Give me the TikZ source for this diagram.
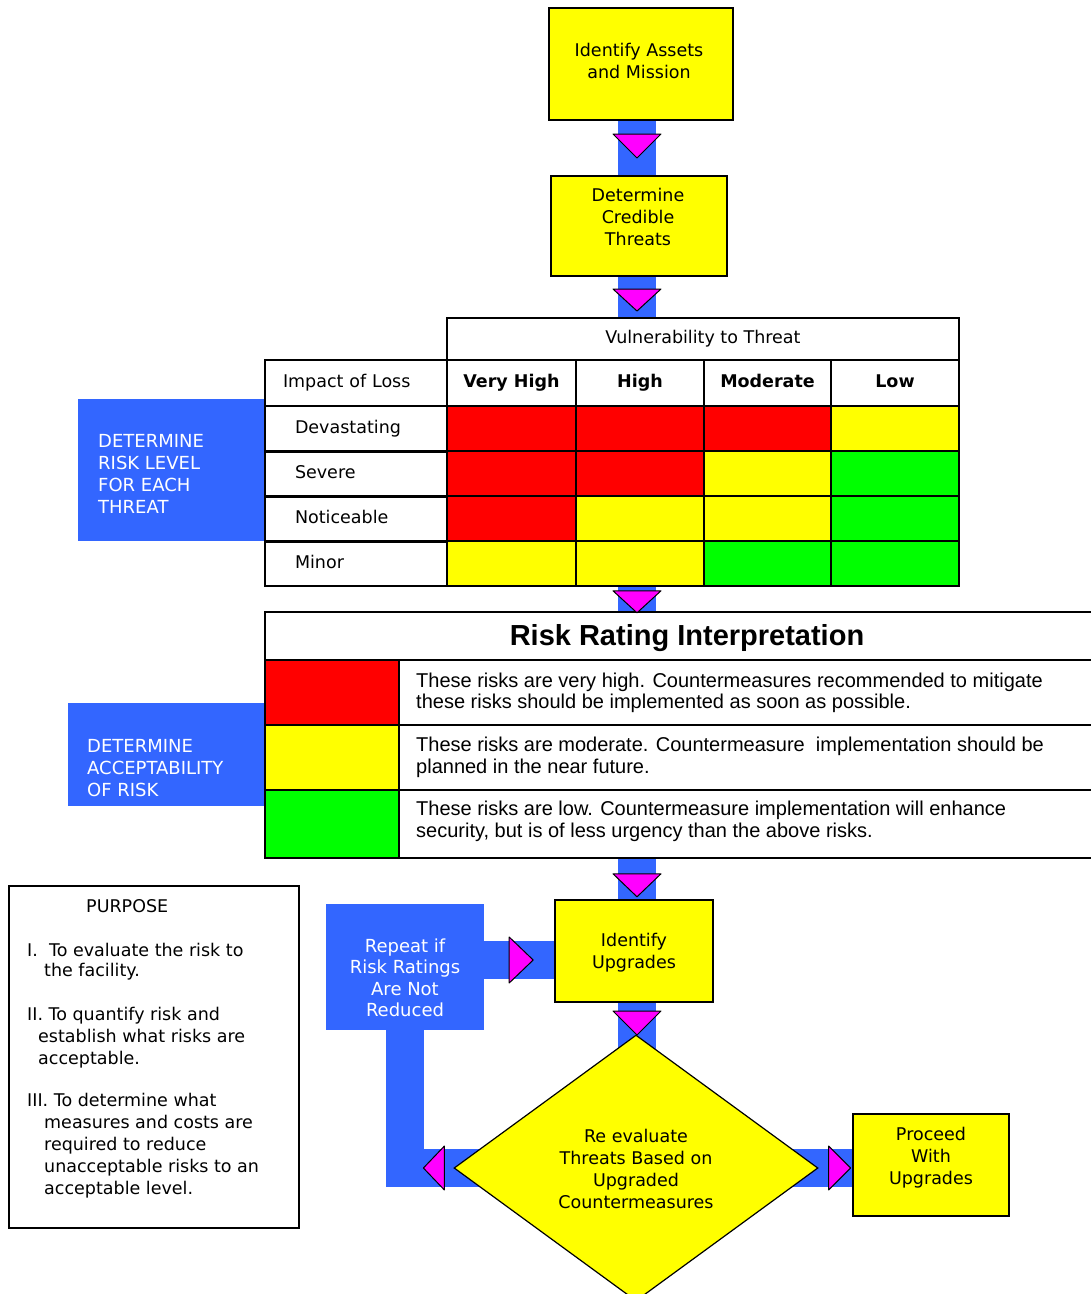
\documentclass[tikz,border=0pt]{standalone}
\usepackage{fontspec}
\setmainfont{DejaVu Sans}
\newfontfamily\lib{Liberation Sans}
\usetikzlibrary{shapes.geometric,calc}
\definecolor{bblue}{RGB}{51,102,255}
\definecolor{mag}{RGB}{255,0,255}
\definecolor{yel}{RGB}{255,255,0}
\definecolor{rd}{RGB}{255,0,0}
\definecolor{grn}{RGB}{0,255,0}
\pgfdeclarelayer{bg}
\pgfsetlayers{bg,main}
\begin{document}
\begin{tikzpicture}[x=1pt,y=-1pt,
  every node/.style={font=\fontsize{17.5}{22}\selectfont, inner sep=0pt},
  ybox/.style={draw=black, line width=2, fill=yel},
  bbox/.style={fill=bblue},
  wtext/.style={text=white, align=left, font=\fontsize{18}{22}\selectfont},
  cell/.style={draw=black, line width=1.6},
  rhead/.style={cell, fill=white, minimum width=182, minimum height=45, text width=122, align=left, text height=13, text depth=4},
  chead/.style={cell, fill=white, minimum height=46, text height=13, text depth=4, font=\fontsize{17.5}{22}\selectfont\bfseries},
  bar/.style={draw=bblue, line width=38},
  tri/.style={fill=mag, draw=black, line width=1, line join=round},
  itext/.style={font=\lib\fontsize{20}{21.5}\selectfont, align=left},
  ptext/.style={anchor=base west},
]
\useasboundingbox (0,0) rectangle (1091,1294);
\coordinate (ax) at (637,0);
\coordinate (hy) at (0,960);

% top boxes
\node[ybox, minimum width=184, minimum height=112] (b1) at (641,64) {};
\node[align=center] (b1t) at (639,61) {Identify Assets\\and Mission};
\node[ybox, minimum width=176, minimum height=100] (b2) at (639,226) {};
\node[align=center] (b2t) at (638,217) {Determine\\Credible\\Threats};

% blue side boxes
\node[bbox, minimum width=187, minimum height=142] (drl) at (171.5,470) {};
\node[wtext, anchor=west] (drlt) at (98,474) {DETERMINE\\RISK LEVEL\\FOR EACH\\THREAT};
\node[bbox, minimum width=197, minimum height=103] (acc) at (166.5,754.5) {};
\node[wtext, anchor=west] (acct) at (87,768) {DETERMINE\\ACCEPTABILITY\\OF RISK};

% risk matrix
\node[cell, fill=white, minimum width=512, minimum height=42, text height=13, text depth=4] (vuln) at (703,339) {Vulnerability to Threat};
\node[cell, fill=white, minimum width=182, minimum height=46, text width=146, align=left, text height=13, text depth=4] (imp) at (356,383) {Impact of Loss};
\node[chead, minimum width=129] (hvh) at (511.5,383) {Very High};
\node[chead, minimum width=128] (hh) at (640,383) {High};
\node[chead, minimum width=127] (hm) at (767.5,383) {Moderate};
\node[chead, minimum width=128] (hl) at (895,383) {Low};

\node[rhead] (dev) at (356,428.5) {Devastating};
\node[rhead] (sev) at (356,473.5) {Severe};
\node[rhead] (not) at (356,518.5) {Noticeable};
\node[rhead] (mi) at (356,563.5) {Minor};

\node[cell, fill=rd,  minimum width=129, minimum height=45] (c11) at (511.5,428.5) {};
\node[cell, fill=rd,  minimum width=128, minimum height=45] (c12) at (640,428.5) {};
\node[cell, fill=rd,  minimum width=127, minimum height=45] (c13) at (767.5,428.5) {};
\node[cell, fill=yel, minimum width=128, minimum height=45] (c14) at (895,428.5) {};
\node[cell, fill=rd,  minimum width=129, minimum height=45] (c21) at (511.5,473.5) {};
\node[cell, fill=rd,  minimum width=128, minimum height=45] (c22) at (640,473.5) {};
\node[cell, fill=yel, minimum width=127, minimum height=45] (c23) at (767.5,473.5) {};
\node[cell, fill=grn, minimum width=128, minimum height=45] (c24) at (895,473.5) {};
\node[cell, fill=rd,  minimum width=129, minimum height=45] (c31) at (511.5,518.5) {};
\node[cell, fill=yel, minimum width=128, minimum height=45] (c32) at (640,518.5) {};
\node[cell, fill=yel, minimum width=127, minimum height=45] (c33) at (767.5,518.5) {};
\node[cell, fill=grn, minimum width=128, minimum height=45] (c34) at (895,518.5) {};
\node[cell, fill=yel, minimum width=129, minimum height=45] (c41) at (511.5,563.5) {};
\node[cell, fill=yel, minimum width=128, minimum height=45] (c42) at (640,563.5) {};
\node[cell, fill=grn, minimum width=127, minimum height=45] (c43) at (767.5,563.5) {};
\node[cell, fill=grn, minimum width=128, minimum height=45] (c44) at (895,563.5) {};
\draw[line width=3] (dev.south west) -- (dev.south east);
\draw[line width=3] (sev.south west) -- (sev.south east);
\draw[line width=3] (not.south west) -- (not.south east);

% risk rating interpretation
\node[cell, fill=white, minimum width=830, minimum height=48] (rri) at (680,636) {};
\node[font=\lib\bfseries\fontsize{29}{32}\selectfont] (rrit) at (687,638) {Risk Rating Interpretation};
\node[cell, fill=rd,  minimum width=134, minimum height=65] (k1) at (332,692.5) {};
\node[cell, fill=yel, minimum width=134, minimum height=65] (k2) at (332,757.5) {};
\node[cell, fill=grn, minimum width=134, minimum height=68] (k3) at (332,824) {};
\node[cell, fill=white, minimum width=696, minimum height=65] (t1) at (747,692.5) {};
\node[cell, fill=white, minimum width=696, minimum height=65] (t2) at (747,757.5) {};
\node[cell, fill=white, minimum width=696, minimum height=68] (t3) at (747,824) {};
\node[itext, anchor=west] at (416,693) {These risks are very high. Countermeasures recommended to mitigate\\these risks should be implemented as soon as possible.};
\node[itext, anchor=west] at (416,757.5) {These risks are moderate. Countermeasure\ \ implementation should be\\planned in the near future.};
\node[itext, anchor=west] at (416,821.5) {These risks are low. Countermeasure implementation will enhance\\security, but is of less urgency than the above risks.};

% lower flow
\node[bbox, minimum width=158, minimum height=126] (rep) at (405,967) {};
\node[text=white, align=center, font=\fontsize{18}{21.5}\selectfont] (rept) at (405,978) {Repeat if\\Risk Ratings\\Are Not\\Reduced};
\node[ybox, minimum width=158, minimum height=102] (iu) at (634,951) {};
\node[align=center] (iut) at (634,953) {Identify\\Upgrades};
\node[diamond, draw=black, line width=1.2, fill=yel, minimum width=364, minimum height=266, aspect=1.37] (dia) at (636,1168) {};
\node[align=center] (diat) at (636,1169) {Re evaluate\\Threats Based on\\Upgraded\\Countermeasures};
\node[ybox, minimum width=156, minimum height=102] (pro) at (931,1165) {};
\node[align=center] (prot) at (931,1157.5) {Proceed\\With\\Upgrades};

% purpose box
\node[draw=black, line width=1.5, minimum width=290, minimum height=342] (pur) at (154,1057) {};
\node[ptext] at (86,912) {PURPOSE};
\node[ptext] at (27,956) {I.\ \ To evaluate the risk to};
\node[ptext] at (44,976) {the facility.};
\node[ptext] at (27,1020) {II. To quantify risk and};
\node[ptext] at (38,1042) {establish what risks are};
\node[ptext] at (38,1064) {acceptable.};
\node[ptext] at (27,1106) {III. To determine what};
\node[ptext] at (44,1128) {measures and costs are};
\node[ptext] at (44,1150) {required to reduce};
\node[ptext] at (44,1172) {unacceptable risks to an};
\node[ptext] at (44,1194) {acceptable level.};

% connectors
\begin{pgfonlayer}{bg}
\draw[bar] (b1.south -| ax) -- (b2.north -| ax);
\draw[bar] (b2.south -| ax) -- (vuln.north -| ax);
\draw[bar] (mi.south -| ax) -- (rri.north -| ax);
\draw[bar] (t3.south -| ax) -- (iu.north -| ax);
\draw[bar] (iu.south -| ax) -- (dia.center -| ax);
\draw[bar] (rep.east |- hy) -- (iu.west |- hy);
\draw[bar] (rep.south) -- (rep.south |- dia.center) -- (dia.center);
\draw[bar] (dia.center) -- (pro.west |- dia.center);
\end{pgfonlayer}

% arrowheads
\filldraw[tri] ($(b1.south -| ax)+(-24,13)$) -- ++(48,0) -- ++(-24,24) -- cycle;
\filldraw[tri] ($(b2.south -| ax)+(-24,12)$) -- ++(48,0) -- ++(-24,22) -- cycle;
\filldraw[tri] ($(mi.south -| ax)+(-24,4)$) -- ++(48,0) -- ++(-24,22) -- cycle;
\filldraw[tri] ($(t3.south -| ax)+(-24,15)$) -- ++(48,0) -- ++(-24,23) -- cycle;
\filldraw[tri] ($(iu.south -| ax)+(-24,8)$) -- ++(48,0) -- ++(-24,24) -- cycle;
\filldraw[tri] ($(rep.east |- hy)+(25,-23)$) -- ++(0,46) -- ++(24,-23) -- cycle;
\filldraw[tri] ($(dia.west)+(-9,-22)$) -- ++(0,44) -- ++(-21,-22) -- cycle;
\filldraw[tri] ($(dia.east)+(10,-22)$) -- ++(0,44) -- ++(22,-22) -- cycle;
\end{tikzpicture}
\end{document}
